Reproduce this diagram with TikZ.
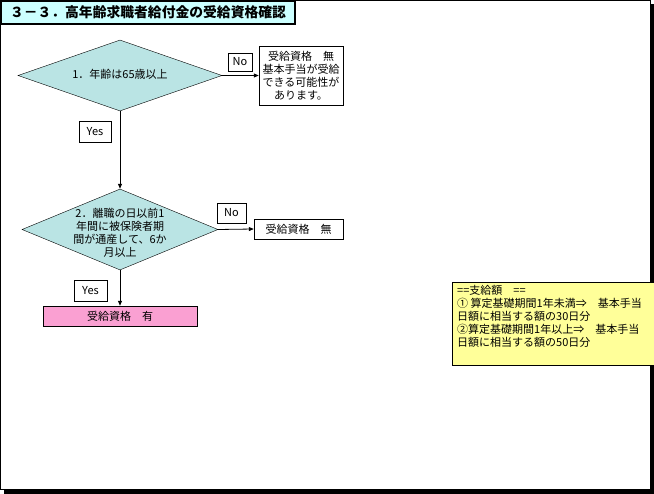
\documentclass[tikz,border=0pt]{standalone}
\usepackage{fontspec}
\setmainfont{Noto Sans CJK JP}
\usetikzlibrary{shapes.geometric,arrows.meta}

\begin{document}
\begin{tikzpicture}[x=1pt,y=1pt,yscale=-1,
  jp/.style={font=\fontsize{11}{13}\selectfont},
  decision/.style={draw, diamond, inner sep=0pt, fill={rgb,255:red,186;green,228;blue,228}},
  textbox/.style={draw, rectangle, inner sep=0pt, align=center, jp},
  answer/.style={draw, rectangle, inner sep=0pt, jp},
  flow/.style={-{Triangle[length=5pt,width=4pt]}, line width=0.8pt}]
\useasboundingbox (0,0) rectangle (654,494);

%Shape: Page frame and shadow
\draw [line width=0.8pt] (0.4,0.4) rectangle (650,489);
\fill [black] (650,4) rectangle (654,494);
\fill [black] (4,489) rectangle (654,494);

%Shape: Title
\node [draw, line width=1.2pt, fill={rgb,255:red,204;green,255;blue,255}, minimum width=294, minimum height=23, inner sep=0pt, font=\fontsize{13.8}{16}\selectfont\bfseries] (title) at (148,12.5) {３－３．高年齢求職者給付金の受給資格確認};

%Shape: Diamond 1
\node [decision, minimum width=204, minimum height=71] (age) at (120,75.5) {};
\node [jp] (agetext) at (120,74) {1．年齢は65歳以上};

%Shape: Rectangle (No 1)
\node [textbox, fill=white, minimum width=84, minimum height=59] (res1) at (301,75.5) {受給資格　無\\基本手当が受給\\できる可能性が\\あります。};
\node [answer, fill=white, minimum width=24, minimum height=18] (no1) at (240,62) {No};

%Shape: Diamond 2
\node [decision, minimum width=196, minimum height=81] (period) at (120,229.5) {};
\node [jp, align=center] (periodtext) at (120,233) {2．離職の日以前1\\年間に被保険者期\\間が通産して、6か\\月以上};

%Shape: Rectangle (No 2)
\node [textbox, fill=white, minimum width=89, minimum height=20] (res2) at (298.5,229) {受給資格　無};
\node [answer, fill=white, minimum width=29, minimum height=20] (no2) at (231.5,213) {No};

%Shape: Yes labels
\node [answer, fill=white, minimum width=32, minimum height=21] (yes1) at (95,131.5) {Yes};
\node [answer, fill=white, minimum width=33, minimum height=21] (yes2) at (90.5,290.5) {Yes};

%Shape: Rectangle (result)
\node [textbox, fill={rgb,255:red,250;green,160;blue,210}, minimum width=154, minimum height=20] (ok) at (120,316) {受給資格　有};

%Shape: Note
\node [draw, fill={rgb,255:red,255;green,255;blue,153}, minimum width=202, minimum height=83, inner sep=0pt] (note) at (553,323.5) {};
\node [jp, align=left, anchor=north west, inner sep=0pt] (notetext) at (457,285.5) {==支給額　==\\① 算定基礎期間1年未満⇒　基本手当\\日額に相当する額の30日分\\②算定基礎期間1年以上⇒　基本手当\\日額に相当する額の50日分};

%Straight Lines
\draw [flow] (age.east) -- (res1.west);
\draw [flow] (age.south) -- (period.north);
\draw [flow] (period.east) -- (res2.west);
\draw [flow] (period.south) -- (ok.north);

\end{tikzpicture}
\end{document}
